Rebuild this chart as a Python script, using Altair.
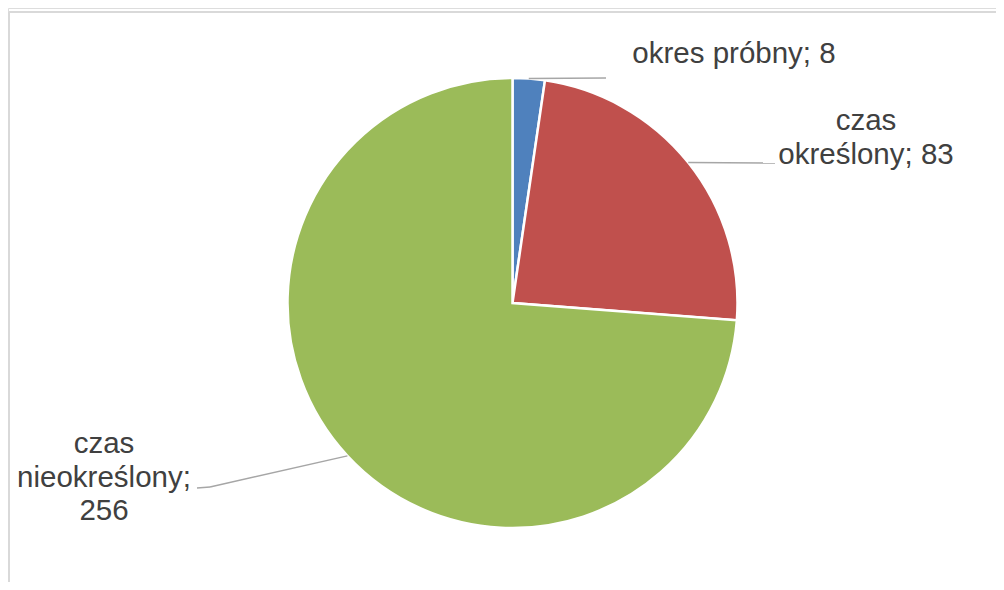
import altair as alt
import pandas as pd

# ---- data ----
CATEGORIES = ["okres próbny", "czas określony", "czas nieokreślony"]
VALUES = [8, 83, 256]
LABELS = ["okres próbny; 8", "czas\nokreślony; 83", "czas\nnieokreślony;\n256"]
COLORS = ["#4f81bd", "#c0504d", "#9bbb59"]

# ---- layout (annotation placement, chart pixel coords) ----
W, H = 988, 574
CX, CY, R = 504.5, 295, 225
LABEL_X = [726, 858, 96]
LABEL_Y = [55, 122, 445]
LEAD_X = [598, 767, 202]
LEAD_Y = [70, 155, 479]
TAIL_X = [598, 767, 189]
TAIL_Y = [70, 155, 480]

df = pd.DataFrame({
    "idx": list(range(len(CATEGORIES))),
    "category": CATEGORIES,
    "value": VALUES,
    "label": LABELS,
    "lx": LABEL_X, "ly": LABEL_Y,
    "ex": LEAD_X, "ey": LEAD_Y,
    "tx": TAIL_X, "ty": TAIL_Y,
})

base = alt.Chart(df)

pie = base.mark_arc(outerRadius=R, stroke="white", strokeWidth=2.5).encode(
    theta=alt.Theta("value:Q", stack=True),
    color=alt.Color("category:N", scale=alt.Scale(domain=CATEGORIES, range=COLORS), legend=None),
    order=alt.Order("idx:Q"),
    x=alt.value(CX), y=alt.value(CY),
)

lead_base = base.transform_window(
    cum="sum(value)", sort=[alt.SortField("idx")], frame=[None, 0]
).transform_joinaggregate(
    total="sum(value)"
).transform_calculate(
    mid="(datum.cum - datum.value/2) / datum.total * 2 * PI",
).transform_calculate(
    sx=f"{CX} + {R} * sin(datum.mid)",
    sy=f"{CY} - {R} * cos(datum.mid)",
)

leaders = lead_base.mark_rule(color="#a6a6a6", strokeWidth=1.5).encode(
    x=alt.X("sx:Q", scale=None, axis=None),
    y=alt.Y("sy:Q", scale=None, axis=None),
    x2="ex:Q", y2="ey:Q",
)
tails = base.mark_rule(color="#a6a6a6", strokeWidth=1.5).encode(
    x=alt.X("ex:Q", scale=None, axis=None),
    y=alt.Y("ey:Q", scale=None, axis=None),
    x2="tx:Q", y2="ty:Q",
)

labels = base.mark_text(
    font="Liberation Sans", fontSize=29.5, color="#404040", align="center",
    baseline="alphabetic", lineBreak="\n", lineHeight=33.5,
).encode(
    x=alt.X("lx:Q", scale=None, axis=None),
    y=alt.Y("ly:Q", scale=None, axis=None),
    text="label:N",
)

frame_top = base.mark_rule(color="#d9d9d9", strokeWidth=2).encode(
    x=alt.value(1), x2=alt.value(W), y=alt.value(4)
).transform_filter("datum.idx == 0")
frame_left = base.mark_rule(color="#d9d9d9", strokeWidth=2).encode(
    x=alt.value(1), y=alt.value(4), y2=alt.value(H)
).transform_filter("datum.idx == 0")

chart = alt.layer(frame_top, frame_left, pie, leaders, tails, labels).properties(
    width=W, height=H, padding=0,
    autosize=alt.AutoSizeParams(type="none"),
).configure_view(stroke=None).configure(background="white")

chart.save("out.html", embed_options={"renderer": "svg", "actions": False})
